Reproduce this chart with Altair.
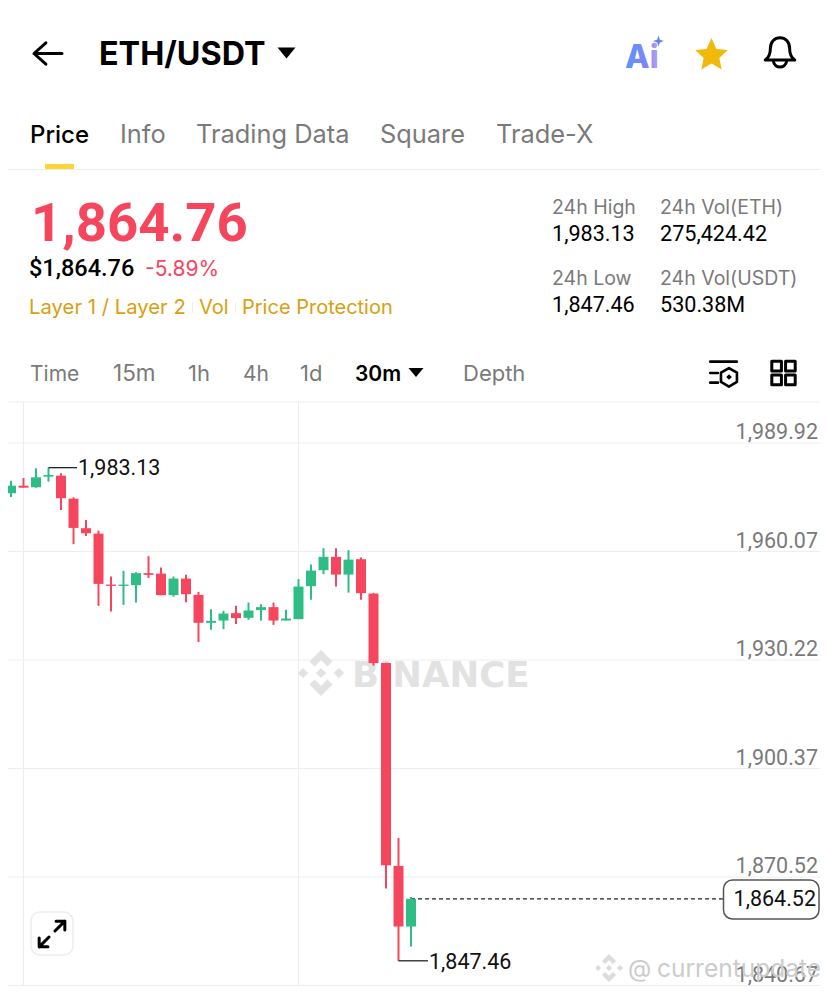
import altair as alt
import pandas as pd

# ---------- data ----------
opens = [1973.43,1976.09,1978.18,1977.74,1980.66,1980.93,1974.61,1966.48,1964.99,1950.97,1950.61,1950.81,1954.11,1953.99,1948.06,1952.62,1948.14,1940.45,1941.08,1943.11,1941.82,1943.94,1944.76,1941.08,1941.46,1950.53,1954.93,1958.59,1953.72,1957.95,1948.50,1929.37,1873.57,1856.89]
highs = [1977.00,1979.56,1980.30,1983.00,1983.13,1981.59,1974.99,1968.76,1965.81,1953.17,1954.74,1954.38,1958.78,1955.65,1953.17,1953.64,1948.97,1944.21,1943.74,1945.12,1946.03,1945.59,1946.03,1944.02,1952.46,1956.47,1960.98,1960.98,1960.43,1958.39,1948.69,1929.45,1881.27,1865.05]
lows = [1972.88,1975.08,1977.63,1977.63,1979.28,1971.50,1962.08,1964.36,1945.12,1943.55,1945.39,1946.03,1952.81,1948.06,1947.67,1946.14,1935.14,1938.52,1938.71,1940.09,1941.27,1941.08,1939.89,1941.08,1941.46,1946.77,1953.83,1950.42,1948.77,1946.77,1928.71,1867.33,1847.46,1851.39]
closes = [1975.63,1978.18,1977.63,1980.49,1981.12,1974.72,1966.56,1965.10,1951.16,1950.61,1950.97,1954.11,1953.64,1948.06,1952.62,1948.33,1940.45,1941.00,1943.00,1941.74,1943.83,1944.76,1941.08,1941.63,1950.42,1954.82,1958.59,1953.72,1957.84,1948.61,1929.37,1873.74,1856.89,1864.52]
price_ticks = [1989.92, 1960.07, 1930.22, 1900.37, 1870.52, 1840.67]
v_grid_idx = [2, 24]
high_point = {"i": 4, "p": 1983.13, "t": "1,983.13"}
low_point = {"i": 32, "p": 1847.46, "t": "1,847.46"}
last_point = {"i": 33, "p": 1864.52, "t": "1,864.52"}

title_text = "ETH/USDT"
tabs = ["Price", "Info", "Trading Data", "Square", "Trade-X"]
main_price = "1,864.76"
usd_price = "$1,864.76"
change = "-5.89%"
tags = ["Layer 1 / Layer 2", "Vol", "Price Protection"]
stat_labels = ["24h High", "24h Vol(ETH)", "24h Low", "24h Vol(USDT)"]
stat_values = ["1,983.13", "275,424.42", "1,847.46", "530.38M"]
intervals = ["Time", "15m", "1h", "4h", "1d", "30m", "Depth"]

RED, GREEN = "#F6465D", "#2EBD85"
GRAY, FONT, NUM = "#7a7a7a", "Inter", "Roboto"
GRID = "#eeeeee"

df = pd.DataFrame({"i": range(len(opens)), "o": opens, "h": highs, "l": lows, "c": closes})
df["dir"] = ["up" if c >= o else "down" for o, c in zip(opens, closes)]
tick_df = pd.DataFrame({"p": price_ticks, "t": [f"{v:,.2f}" for v in price_ticks]})

xs = alt.Scale(domain=[0, 33], range=[-9.5, 403], padding=0, nice=False, zero=False)
ys = alt.Scale(domain=[1840.67, 1989.92], range=[977.5, 435], padding=0, nice=False, zero=False)
col = alt.Color("dir:N", scale=alt.Scale(domain=["up", "down"], range=[GREEN, RED]), legend=None)
X = alt.X("i:Q", scale=xs, axis=None)
P = alt.Y("p:Q", scale=ys, axis=None)


def txt(s, x, y, size, color="#000000", weight=400, align="left", font=FONT, **kw):
    return alt.Chart(alt.Data(values=[{"a": 1}])).mark_text(
        font=font, fontSize=size, fontWeight=weight, color=color, align=align, baseline="alphabetic", **kw
    ).encode(x=alt.value(x - 8), y=alt.value(y - 8), text=alt.value(s))


def icon(path, cx, cy, r, fill=None, stroke=None, sw=3):
    kw = {"filled": fill is not None, "opacity": 1}
    if fill is not None:
        kw["color"] = fill
        kw["fill"] = fill
    if stroke is not None:
        kw["stroke"] = stroke
        kw["strokeWidth"] = sw
        if fill is None:
            kw["fill"] = "transparent"
    if stroke is None:
        kw["strokeWidth"] = 0
    return alt.Chart(alt.Data(values=[{"a": 1}])).mark_point(
        shape=path, size=(2 * r) ** 2, strokeCap="round", strokeJoin="round", **kw
    ).encode(x=alt.value(cx - 8), y=alt.value(cy - 8))


def hline(x1, x2, y, color=GRID, w=1):
    return alt.Chart(alt.Data(values=[{"a": 1}])).mark_rule(color=color, strokeWidth=w).encode(
        x=alt.value(x1 - 8), x2=alt.value(x2 - 8), y=alt.value(y - 8)
    )


def box(x1, x2, y1, y2, fill, stroke=None, radius=0, sw=1):
    kw = {"stroke": stroke, "strokeWidth": sw} if stroke else {}
    return alt.Chart(alt.Data(values=[{"a": 1}])).mark_rect(fill=fill, cornerRadius=radius, **kw).encode(
        x=alt.value(x1 - 8), x2=alt.value(x2 - 8), y=alt.value(y1 - 8), y2=alt.value(y2 - 8)
    )


LOGO = ("M0,-1 L.5,-.5 L.28,-.28 L0,-.56 L-.28,-.28 L-.5,-.5 Z "
        "M0,1 L.5,.5 L.28,.28 L0,.56 L-.28,.28 L-.5,.5 Z "
        "M0,-.22 L.22,0 L0,.22 L-.22,0 Z M-.78,-.22 L-.56,0 L-.78,.22 L-1,0 Z M.78,-.22 L1,0 L.78,.22 L.56,0 Z")
STAR = "M0,-1 L.29,-.36 L.96,-.29 L.46,.17 L.6,.86 L0,.5 L-.6,.86 L-.46,.17 L-.96,-.29 L-.29,-.36 Z"
BELL = ("M-.92,.44 C-.66,.25 -.6,.05 -.6,-.3 C-.6,-.72 -.32,-.95 0,-.95 C.32,-.95 .6,-.72 .6,-.3 "
        "C.6,.05 .66,.25 .92,.44 Z M-.42,.5 C-.34,1 .34,1 .42,.5")
ARROW = "M1,0 L-1,0 M-.15,-.76 L-1,0 L-.15,.76"
TRI = "M-1,-.6 L1,-.6 L0,.6 Z"
SPARK = "M0,-1 L.25,-.25 L1,0 L.25,.25 L0,1 L-.25,.25 L-1,0 L-.25,-.25 Z"
ORDERS = ("M-.95,-.81 L.95,-.81 M-.95,0 L-.4,0 M-.95,.69 L-.4,.69 "
          "M.39,-.35 L.96,-.02 L.96,.64 L.39,.97 L-.18,.64 L-.18,-.02 Z")
GRIDICON = ("M-.9,-.9 H-.16 V-.16 H-.9 Z M.16,-.9 H.9 V-.16 H.16 Z "
            "M-.9,.16 H-.16 V.9 H-.9 Z M.16,.16 H.9 V.9 H.16 Z")
EXPAND = ("M-.95,.95 L-.22,.22 M-.95,.3 L-.95,.95 L-.3,.95 "
          "M.95,-.95 L.22,-.22 M.3,-.95 L.95,-.95 L.95,-.3")

layers = []

# grid and price labels
layers.append(alt.Chart(tick_df).mark_rule(color=GRID, strokeWidth=1).encode(
    y=P, x=alt.value(0), x2=alt.value(812)))
layers.append(alt.Chart(pd.DataFrame({"i": v_grid_idx})).mark_rule(color=GRID, strokeWidth=1).encode(
    x=X, y=alt.value(402 - 8), y2=alt.value(978)))
layers.append(alt.Chart(tick_df).mark_text(
    font=NUM, fontSize=21.5, color=GRAY, align="right", baseline="alphabetic", dy=-4
).encode(y=P, x=alt.value(818 - 8), text="t:N"))

# watermark under the candles
layers += [
    icon(LOGO, 321, 673, 23, fill="#e2e2e2"),
    txt("BINANCE", 352, 687, 35.5, "#e2e2e2", 700, font="DejaVu Sans"),
]

# candles
wicks = alt.Chart(df).mark_rule(strokeWidth=2).encode(
    x=X, y=alt.Y("h:Q", scale=ys, axis=None), y2="l:Q", color=col)
bodies = alt.Chart(df).mark_bar(size=10).encode(
    x=X, y=alt.Y("o:Q", scale=ys, axis=None), y2="c:Q", color=col)

# last price dashed line and its box
last_df = pd.DataFrame([last_point])
layers.append(alt.Chart(last_df).mark_rule(color="#222222", strokeWidth=1.2, strokeDash=[4, 3]).encode(
    x=X, x2=alt.value(723 - 8), y=P))
layers += [wicks, bodies]
layers.append(box(723.5, 819, 880, 919, "#ffffff", "#555555", 9, 1.5))
layers.append(alt.Chart(last_df).mark_text(font=NUM, fontSize=21.5, color="#111111", align="right", baseline="middle", dy=1).encode(
    x=alt.value(816 - 8), y=P, text="t:N"))

# high / low callouts
for pt, xend, tdy in ((high_point, 77, 1), (low_point, 428, 2)):
    d = pd.DataFrame([pt])
    layers.append(alt.Chart(d).mark_rule(color="#111111", strokeWidth=1.2).encode(
        x=X, x2=alt.value(xend - 8), y=P))
    layers.append(alt.Chart(d).mark_text(font=NUM, fontSize=21.5, color="#111111", align="left", baseline="middle", dy=tdy).encode(
        x=alt.value(xend + 1 - 8), y=P, text="t:N"))

# bottom right watermark
layers += [
    icon(LOGO, 609, 968, 14, fill="#dcdcdc"),
    txt("@", 628, 977, 24, "#cccccc"),
    txt("currentupdate", 657, 977, 24.5, "#cccccc"),
]

# expand button
layers += [box(31, 73, 912, 955, "#ffffff", "#eeeeee", 9, 1.5), icon(EXPAND, 52, 934, 13.5, stroke="#000000", sw=3)]

# header
layers += [
    icon(ARROW, 48, 53.5, 14, stroke="#000000", sw=3),
    txt(title_text, 99, 65, 32.3, "#000000", 700),
    icon(TRI, 286.5, 53, 9, fill="#000000"),
    txt("Ai", 625, 68, 32, alt.LinearGradient(
        gradient="linear", x1=0, x2=1, y1=0, y2=0,
        stops=[alt.GradientStop(offset=0, color="#5b95ff"), alt.GradientStop(offset=0.65, color="#7f84f5"),
               alt.GradientStop(offset=1, color="#bba2ef")]), 800),
    icon(SPARK, 658.5, 41, 5.5, fill="#6a7ff5"),
    icon(STAR, 711.5, 55, 17, fill="#F0B90B"),
    icon(BELL, 780, 53, 16, stroke="#000000", sw=3),
]

# tabs
for s, x, c, w, fs in zip(tabs, [30, 120, 196, 380, 496], ["#000000"] + [GRAY] * 4, [500] + [400] * 4, [24] + [25.4] * 4):
    layers.append(txt(s, x, 143, fs, c, w))
layers += [box(45, 74, 164, 169, "#FCD535"), hline(8, 820, 169.5)]

# price block
layers += [
    txt(main_price, 31, 241, 54.5, RED, 700, font=NUM),
    txt(usd_price, 29, 276, 23.5, "#000000", 500, font=NUM),
    txt(change, 145, 276, 21, RED, 400),
]
for s, x, fs in zip(tags, [29, 199, 242], [20.3, 20, 20]):
    layers.append(txt(s, x, 314, fs, "#D9A00F", 400))
layers += [box(192, 193, 302, 313, "#eeeeee"), box(235, 236, 302, 313, "#eeeeee")]

for s, x, y in zip(stat_labels, [552, 660, 552, 660], [214, 214, 285, 285]):
    layers.append(txt(s, x, y, 19.5, GRAY))
for s, x, y in zip(stat_values, [552, 660, 552, 660], [241, 241, 312, 312]):
    layers.append(txt(s, x, y, 21.6, "#000000", font=NUM))

# interval row
for s, x, c, w, fs in zip(intervals, [30, 113, 188, 243, 300, 355, 463],
                          [GRAY] * 5 + ["#000000", GRAY], [400] * 5 + [600, 400], [21, 22.5, 22, 21, 22, 21, 22]):
    layers.append(txt(s, x, 381, fs, c, w))
layers += [
    icon(TRI, 416, 372.5, 7.5, fill="#000000"),
    icon(ORDERS, 723.5, 373, 14, stroke="#000000", sw=2.6),
    alt.Chart(alt.Data(values=[{"a": 1}])).mark_point(shape="diamond", size=32, filled=True, color="#000000", opacity=1).encode(
        x=alt.value(729 - 8), y=alt.value(377 - 8)),
    icon(GRIDICON, 783.5, 373, 13, stroke="#000000", sw=3),
    hline(8, 820, 402),
]

chart = alt.layer(*layers).properties(
    width=812, height=978, padding=0, background="#ffffff",
    autosize=alt.AutoSizeParams(type="none")
).configure_view(strokeWidth=0, stroke="transparent")

chart.save("out.html", embed_options={"renderer": "svg", "actions": False})
